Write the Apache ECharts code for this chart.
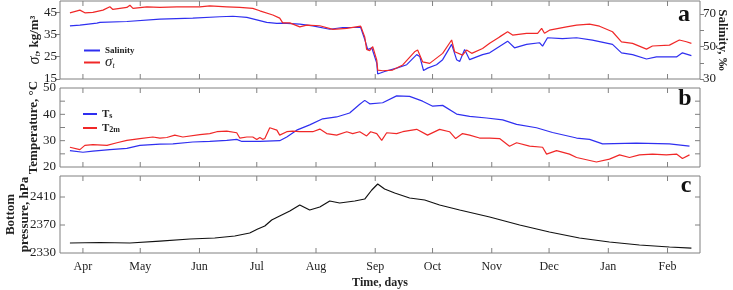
<!DOCTYPE html>
<html>
<head>
<meta charset="utf-8">
<script src="https://cdn.jsdelivr.net/npm/echarts@6/dist/echarts.min.js"></script>
<style>
  html, body { margin: 0; padding: 0; background: #fff; }
  #main { width: 733px; height: 290px; }
</style>
</head>
<body>
<div id="main"></div>
<script>
// x values below are days counted from 1 April; the axis starts 12 days earlier
var DAY0 = 12;
var monthNames = ['Apr', 'May', 'Jun', 'Jul', 'Aug', 'Sep', 'Oct', 'Nov', 'Dec', 'Jan', 'Feb'];
var monthDays = [0, 30, 61, 91, 122, 153, 183, 214, 244, 275, 306];

// panel a
var sigmaDays = [-6.8, -1.6, 1, 5.2, 10.5, 14.1, 15.7, 23, 24.6, 26.2, 33.5, 40.3, 49.2, 61.2, 66.4, 75.3, 82.1, 88.9, 92.6, 99.4, 103, 104.6, 108.3, 113.5, 117.2, 124, 130.8, 138.1, 145.4, 147.5, 148.5, 150.1, 151.7, 153.8, 154.3, 156.9, 162.1, 167.4, 173.6, 175.2, 177.8, 181.5, 188.3, 193, 194.6, 198.7, 200.8, 203.5, 209.2, 212.9, 218.1, 222.3, 224.9, 232.2, 238, 240.1, 241.6, 244.2, 253.1, 258.4, 265.2, 270.4, 277.2, 281.9, 287.7, 295, 298.1, 307, 312.2, 315.9, 318.5];
var sigmaVals = [44.7, 45.9, 44.7, 44.9, 45.9, 47.4, 46.2, 47.1, 48.1, 46.7, 47.4, 47.1, 47.4, 47.4, 47.8, 47.4, 47.1, 46.7, 45.6, 43.7, 42.3, 40.2, 40.2, 38.4, 39.2, 38.9, 37.3, 37.7, 38.7, 33.9, 28.3, 27.7, 29.5, 23.5, 19.0, 18.7, 19.0, 21.3, 27.2, 28.0, 22.7, 22.0, 26.5, 32.5, 27.2, 25.7, 28.0, 26.5, 28.7, 31.0, 33.9, 36.2, 34.7, 35.5, 35.5, 37.7, 35.5, 36.9, 38.4, 39.2, 39.6, 38.7, 36.2, 31.7, 31.0, 28.4, 29.8, 30.2, 32.5, 31.7, 31.0];

var salDays = [-6.8, -1.6, 7.3, 8.9, 23, 40.3, 57.5, 71.7, 78.5, 85.8, 91, 96.2, 101.5, 104.6, 113.5, 120.3, 129.2, 136, 145.4, 147.5, 149.1, 151.2, 153.8, 154.3, 157.9, 164.2, 169.5, 174.7, 176.3, 178.3, 180.4, 185.1, 188.3, 193, 195.6, 197.2, 199.8, 202.4, 206.1, 209.2, 212.9, 222.3, 225.9, 232.2, 239, 240.6, 243.2, 251, 258.4, 266.7, 277.2, 281.9, 287.7, 295, 300.2, 310.7, 313.8, 318.5];
var salVals = [62.7, 63.1, 64.4, 64.8, 65.4, 66.9, 67.5, 68.3, 68.6, 67.9, 66.4, 64.8, 64.2, 64.4, 63.8, 62.7, 60.6, 61.7, 61.7, 54.4, 48.1, 49.2, 39.8, 33.1, 34.6, 36.7, 38.8, 45.0, 43.9, 35.2, 36.7, 38.8, 41.9, 51.3, 41.9, 40.8, 48.1, 41.9, 43.6, 45.0, 46.1, 53.3, 49.2, 51.3, 52.3, 50.2, 55.4, 54.8, 55.4, 53.9, 51.3, 46.1, 45.0, 42.3, 43.6, 43.6, 46.1, 44.4];

// panel b
var tsDays = [-6.8, 0, 5.2, 14.1, 23, 29.8, 40.3, 47.1, 57.5, 66.4, 75.3, 80.5, 83.2, 92.6, 103, 106.7, 111.9, 118.7, 125.5, 132.8, 139.6, 144.9, 147.5, 150.1, 156.9, 164.2, 171, 177.8, 183.1, 188.3, 195.6, 202.4, 211.3, 219.7, 227, 237.4, 245.8, 258.4, 265.2, 272, 289.7, 307, 317.5];
var tsVals = [26.2, 25.6, 26.0, 26.6, 27.1, 28.2, 28.7, 28.8, 29.5, 29.7, 30.1, 30.5, 29.7, 29.7, 30.0, 31.4, 34.0, 36.0, 38.3, 39.0, 40.5, 43.8, 45.3, 44.0, 44.4, 47.0, 46.8, 45.0, 43.1, 43.4, 40.1, 39.2, 38.6, 37.9, 36.2, 34.9, 33.1, 31.0, 30.5, 28.8, 29.1, 28.8, 27.9];

var t2mDays = [-6.8, -1.6, 1, 5.2, 12.6, 17.8, 23, 29.8, 36.6, 40.3, 43.9, 48.1, 52.3, 61.2, 66.4, 70.1, 75.3, 80.5, 82.1, 85.8, 88.9, 91, 92.6, 94.1, 95.2, 97.8, 101.5, 103, 106.7, 109.8, 113.5, 120.3, 124, 127.6, 132.8, 138.1, 141.2, 144.9, 148.5, 150.6, 153.8, 156.4, 159, 164.2, 167.4, 174.7, 180.4, 186.7, 191.9, 195.1, 198.7, 202.4, 207.6, 212.9, 218.1, 223.3, 227, 233.8, 240.6, 242.7, 247.9, 254.7, 258.4, 268.8, 275.6, 280.9, 286.1, 291.3, 298.1, 305.4, 310.7, 313.8, 317.5];
var t2mVals = [27.5, 26.6, 28.2, 28.5, 28.2, 29.2, 30.1, 30.8, 31.4, 31.0, 31.2, 32.1, 31.4, 32.3, 32.7, 33.4, 33.6, 33.0, 31.0, 31.4, 31.4, 30.4, 31.2, 30.5, 30.8, 34.9, 34.0, 32.1, 33.4, 33.6, 33.4, 33.4, 34.4, 32.7, 32.1, 33.4, 32.7, 33.4, 31.8, 33.4, 32.7, 30.1, 33.0, 32.7, 33.4, 34.3, 32.1, 34.3, 33.4, 30.8, 32.7, 32.1, 31.0, 31.0, 30.8, 27.9, 29.2, 27.9, 27.5, 24.9, 26.2, 24.9, 23.6, 21.9, 23.0, 24.6, 23.6, 24.6, 24.9, 24.6, 24.9, 23.2, 24.6];

// panel c
var presDays = [-6.8, 8.9, 24.6, 40.3, 56, 69, 79.5, 87.3, 91.5, 95.2, 98.8, 103, 108.3, 113.5, 118.7, 124, 129.2, 134.4, 142.3, 147.5, 151.2, 154.3, 157.9, 163.2, 171, 178.9, 186.7, 197.2, 212.9, 228.6, 244.2, 259.9, 275.6, 291.3, 307, 318.5];
var presVals = [2344.3, 2345, 2344.3, 2347.1, 2350, 2351.4, 2354.3, 2358.6, 2364.3, 2368.6, 2377.1, 2382.9, 2390, 2398.6, 2391.4, 2395.7, 2404.3, 2401.4, 2404.3, 2407.1, 2420, 2428.6, 2421.4, 2415.7, 2408.6, 2405.7, 2398.6, 2391.4, 2381.4, 2370, 2360, 2351.4, 2345.7, 2341.4, 2338.6, 2337.1];

// axis ranges and ticks
var xRange = [0, 335];
var sigmaRange = [15, 50], sigmaTicks = [15, 25, 35, 45];
var salRange = [30, 78], salTicks = [30, 40, 50, 60, 70], salLabels = [30, 50, 70];
var tempRange = [20, 50], tempLabels = [20, 30, 40, 50], tempInnerTicks = [25, 30, 35, 40, 45];
var presRange = [2330, 2440], presLabels = [2330, 2370, 2410], presInnerTicks = [2370, 2410];

var FONT = '"Liberation Serif", "DejaVu Serif", serif';
var BLUE = '#2f2ff0';
var RED = '#f02828';
var GRAY = '#808080';
var TXT = '#222';

var monthTicks = monthDays.map(function (d) { return d + DAY0; });

function zip(xs, ys) {
  return xs.map(function (x, i) { return [x + DAY0, ys[i]]; });
}

function monthName(v) { return monthNames[monthTicks.indexOf(v)]; }

function labelAxis(gridIndex, position, range, values, shown, textFn, size, outTicks) {
  return {
    type: 'value', gridIndex: gridIndex, position: position,
    min: range[0], max: range[1], z: 5,
    splitLine: { show: false },
    axisLine: { show: false, onZero: false },
    axisTick: { show: !!outTicks, inside: false, length: 4, customValues: values, lineStyle: { color: GRAY, width: 1 } },
    axisLabel: {
      show: shown.length > 0, customValues: values,
      formatter: function (v) { return shown.indexOf(v) >= 0 ? textFn(v) : ' '; },
      fontFamily: FONT, fontSize: size, color: TXT, margin: outTicks ? 3 : 4
    },
    nameMoveOverlap: false
  };
}

// short inward ticks at the months, on the top and bottom edge of a panel
function monthTickSeries(xi, yi, yRange) {
  return {
    type: 'custom', xAxisIndex: xi, yAxisIndex: yi, silent: true, z: 5,
    data: monthTicks.map(function (v) { return [v]; }),
    renderItem: function (params, api) {
      var b = api.coord([api.value(0), yRange[0]]);
      var t = api.coord([api.value(0), yRange[1]]);
      var st = { stroke: GRAY, lineWidth: 1 };
      return { type: 'group', children: [
        { type: 'line', shape: { x1: b[0], y1: b[1], x2: b[0], y2: b[1] - 5 }, style: st },
        { type: 'line', shape: { x1: t[0], y1: t[1], x2: t[0], y2: t[1] + 5 }, style: st }
      ] };
    }
  };
}

// short inward ticks on the left and right edge of a panel
function valueTickSeries(xi, yi, ticks) {
  return {
    type: 'custom', xAxisIndex: xi, yAxisIndex: yi, silent: true, z: 5,
    data: ticks.map(function (v) { return [v]; }),
    renderItem: function (params, api) {
      var l = api.coord([xRange[0], api.value(0)]);
      var r = api.coord([xRange[1], api.value(0)]);
      var st = { stroke: GRAY, lineWidth: 1 };
      return { type: 'group', children: [
        { type: 'line', shape: { x1: l[0], y1: l[1], x2: l[0] + 5, y2: l[1] }, style: st },
        { type: 'line', shape: { x1: r[0], y1: r[1], x2: r[0] - 5, y2: r[1] }, style: st }
      ] };
    }
  };
}

var xA = labelAxis(0, 'bottom', xRange, monthTicks, [], monthName, 12, false);
var xB = labelAxis(1, 'bottom', xRange, monthTicks, [], monthName, 12, false);
var xC = labelAxis(2, 'bottom', xRange, monthTicks, monthTicks, monthName, 12, false);
xC.axisLabel.margin = 8;
xC.name = 'Time, days';
xC.nameLocation = 'middle';
xC.nameGap = 24;
xC.nameTextStyle = { fontFamily: FONT, fontSize: 12, fontWeight: 'bold', color: TXT };

var yA = labelAxis(0, 'left', sigmaRange, sigmaTicks, sigmaTicks, String, 13, true);
yA.name = '{i|σ}{sub|t}{b|, kg/m³}';
yA.nameLocation = 'middle';
yA.nameGap = 17;
yA.nameTextStyle = {
  rich: {
    i: { fontFamily: FONT, fontSize: 16, fontStyle: 'italic', color: TXT },
    sub: { fontFamily: FONT, fontSize: 9, fontStyle: 'italic', color: TXT, padding: [6, 0, 0, 0] },
    b: { fontFamily: FONT, fontSize: 13, fontWeight: 'bold', color: TXT }
  }
};

var yAR = labelAxis(0, 'right', salRange, salTicks, salLabels, String, 13, true);
yAR.name = 'Salinity, ‰';
yAR.nameLocation = 'middle';
yAR.nameRotate = -90;
yAR.nameGap = 16;
yAR.nameTextStyle = { fontFamily: FONT, fontSize: 13, fontWeight: 'bold', color: TXT };

var yB = labelAxis(1, 'left', tempRange, tempLabels, tempLabels, String, 13, false);
yB.name = 'Temperature, °C';
yB.nameLocation = 'middle';
yB.nameGap = 20;
yB.nameTextStyle = { fontFamily: FONT, fontSize: 13, fontWeight: 'bold', color: TXT };

var yC = labelAxis(2, 'left', presRange, presLabels, presLabels, String, 13, false);
yC.name = 'Bottom\npressure, hPa';
yC.nameLocation = 'middle';
yC.nameGap = 28;
yC.nameTextStyle = { fontFamily: FONT, fontSize: 13, fontWeight: 'bold', color: TXT, lineHeight: 14 };

function gridBox(top, height) {
  return {
    left: 60, width: 640, top: top, height: height,
    containLabel: false, outerBoundsMode: 'none',
    show: true, backgroundColor: 'transparent', borderColor: GRAY, borderWidth: 1
  };
}

var chart = echarts.init(document.getElementById('main'), null, { renderer: 'canvas' });

var option = {
  animation: false,
  backgroundColor: '#fff',
  grid: [gridBox(1, 78), gridBox(88, 79), gridBox(176, 77)],
  xAxis: [xA, xB, xC],
  yAxis: [yA, yAR, yB, yC],
  legend: [
    {
      data: ['Salinity', 'sigma'],
      orient: 'vertical', left: 79, top: 41, itemWidth: 16, itemHeight: 2, itemGap: 0, icon: 'rect',
      formatter: function (n) { return n === 'sigma' ? '{i|σ}{sub|t}' : '{b|Salinity}'; },
      textStyle: {
        rich: {
          b: { fontFamily: FONT, fontSize: 9, fontWeight: 'bold', color: TXT, lineHeight: 12 },
          i: { fontFamily: FONT, fontSize: 15, fontStyle: 'italic', color: TXT, lineHeight: 14 },
          sub: { fontFamily: FONT, fontSize: 8, fontStyle: 'italic', color: TXT, lineHeight: 14, padding: [6, 0, 0, 0] }
        }
      }
    },
    {
      data: ['Ts', 'T2m'],
      orient: 'vertical', left: 78, top: 103, itemWidth: 14, itemHeight: 2, itemGap: 2, icon: 'rect',
      formatter: function (n) { return n === 'Ts' ? '{b|T}{sub|s}' : '{b|T}{sub|2m}'; },
      textStyle: {
        rich: {
          b: { fontFamily: FONT, fontSize: 11, fontWeight: 'bold', color: TXT, lineHeight: 12 },
          sub: { fontFamily: FONT, fontSize: 8, fontWeight: 'bold', color: TXT, lineHeight: 12, padding: [4, 0, 0, 0] }
        }
      }
    }
  ],
  graphic: [
    { type: 'text', x: 684, y: 15, style: { text: 'a', font: 'bold 24px ' + FONT, fill: '#111', align: 'center', verticalAlign: 'middle' } },
    { type: 'text', x: 685, y: 99, style: { text: 'b', font: 'bold 24px ' + FONT, fill: '#111', align: 'center', verticalAlign: 'middle' } },
    { type: 'text', x: 686, y: 186, style: { text: 'c', font: 'bold 24px ' + FONT, fill: '#111', align: 'center', verticalAlign: 'middle' } }
  ],
  series: [
    { name: 'Salinity', type: 'line', xAxisIndex: 0, yAxisIndex: 1, data: zip(salDays, salVals),
      showSymbol: false, color: BLUE, lineStyle: { width: 1.2 } },
    { name: 'sigma', type: 'line', xAxisIndex: 0, yAxisIndex: 0, data: zip(sigmaDays, sigmaVals),
      showSymbol: false, color: RED, lineStyle: { width: 1.2 } },
    { name: 'Ts', type: 'line', xAxisIndex: 1, yAxisIndex: 2, data: zip(tsDays, tsVals),
      showSymbol: false, color: BLUE, lineStyle: { width: 1.2 } },
    { name: 'T2m', type: 'line', xAxisIndex: 1, yAxisIndex: 2, data: zip(t2mDays, t2mVals),
      showSymbol: false, color: RED, lineStyle: { width: 1.2 } },
    { name: 'Pressure', type: 'line', xAxisIndex: 2, yAxisIndex: 3, data: zip(presDays, presVals),
      showSymbol: false, color: '#111', lineStyle: { width: 1.2 } },
    monthTickSeries(0, 0, sigmaRange),
    monthTickSeries(1, 2, tempRange),
    monthTickSeries(2, 3, presRange),
    valueTickSeries(1, 2, tempInnerTicks),
    valueTickSeries(2, 3, presInnerTicks)
  ]
};

chart.setOption(option);
</script>
</body>
</html>
